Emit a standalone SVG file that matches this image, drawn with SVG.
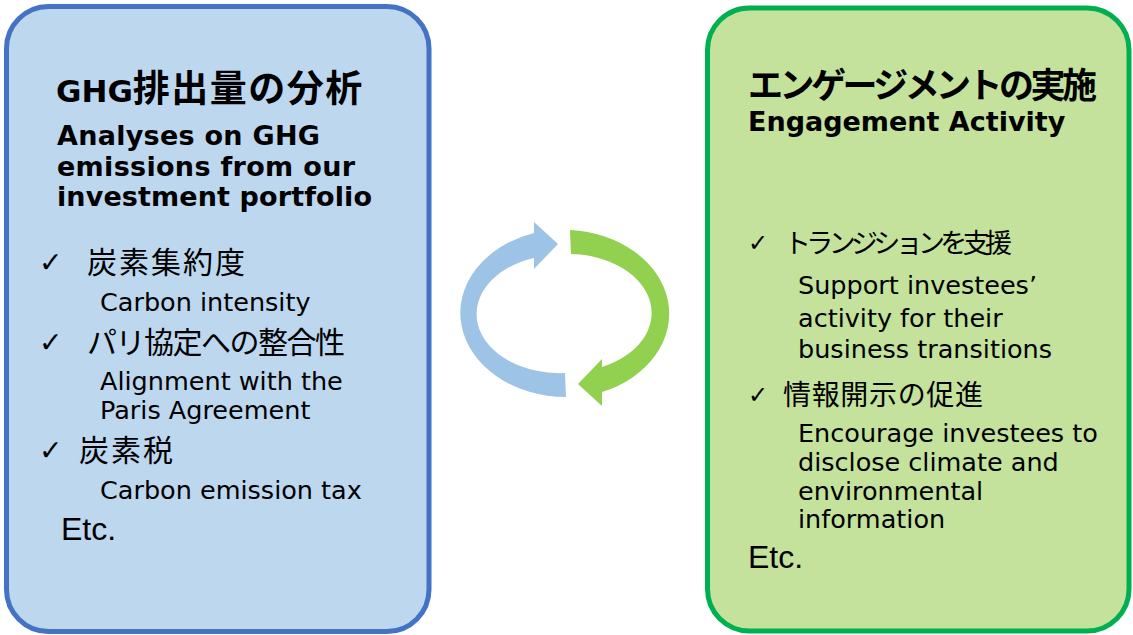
<svg xmlns="http://www.w3.org/2000/svg" width="1133" height="635" viewBox="0 0 1133 635">
<style>
.jp{font-family:"Noto Sans CJK JP","DejaVu Sans",sans-serif;fill:#000}
.jpb{font-family:"Noto Sans CJK JP","DejaVu Sans",sans-serif;font-weight:bold;fill:#000}
.enb{font-family:"DejaVu Sans","Noto Sans CJK JP",sans-serif;font-weight:bold;font-size:27px;fill:#000}
.en{font-family:"DejaVu Sans","Noto Sans CJK JP",sans-serif;font-size:25.5px;fill:#000}
.chk{font-family:"DejaVu Sans",sans-serif;font-weight:bold;fill:#000}
.etc{font-family:"Liberation Sans",Arial,sans-serif;font-size:32px;fill:#000}
</style>
<rect width="1133" height="635" fill="#ffffff"/>
<g id="node-ghg">
<rect x="6.5" y="6.5" width="422.5" height="625" rx="42" ry="42" fill="#BDD7EE" stroke="#4472C4" stroke-width="5"/>
<text x="56" y="102" class="jpb" font-size="37"><tspan style="font-family:'DejaVu Sans',sans-serif;font-size:31px">GHG</tspan><tspan letter-spacing="1.5">排出量の分析</tspan></text>
<text x="57" y="145" class="enb" textLength="263">Analyses on GHG</text>
<text x="57" y="176" class="enb" textLength="298">emissions from our</text>
<text x="57" y="206" class="enb" textLength="315">investment portfolio</text>
<text x="39" y="272" class="chk" font-size="28">✓</text>
<text x="87" y="273" class="jp" font-size="30" textLength="158">炭素集約度</text>
<text x="100" y="311" class="en">Carbon intensity</text>
<text x="39" y="352" class="chk" font-size="28">✓</text>
<text x="87" y="353" class="jp" font-size="30" textLength="258">パリ協定への整合性</text>
<text x="100" y="390" class="en">Alignment with the</text>
<text x="100" y="419" class="en">Paris Agreement</text>
<text x="39" y="460" class="chk" font-size="28">✓</text>
<text x="79" y="461" class="jp" font-size="30" textLength="94">炭素税</text>
<text x="100" y="499" class="en">Carbon emission tax</text>
<text x="61" y="540" class="etc">Etc.</text>
</g>
<g id="node-engagement">
<rect x="707.5" y="8" width="421.5" height="623" rx="42" ry="42" fill="#C4E29C" stroke="#00B050" stroke-width="5"/>
<text x="748" y="98" class="jpb" font-size="35" textLength="349">エンゲージメントの実施</text>
<text x="748" y="131" class="enb">Engagement Activity</text>
<text x="748" y="251" class="chk" font-size="24">✓</text>
<text x="784" y="253" class="jp" font-size="27" textLength="228">トランジションを支援</text>
<text x="798" y="294" class="en">Support investees’</text>
<text x="798" y="327" class="en">activity for their</text>
<text x="798" y="358" class="en">business transitions</text>
<text x="748" y="403" class="chk" font-size="24">✓</text>
<text x="783" y="405" class="jp" font-size="28" textLength="200">情報開示の促進</text>
<text x="798" y="442" class="en">Encourage investees to</text>
<text x="798" y="471" class="en">disclose climate and</text>
<text x="798" y="500" class="en">environmental</text>
<text x="798" y="528" class="en">information</text>
<text x="748" y="568" class="etc">Etc.</text>
</g>
<g id="connectors">
<path id="arrow-blue" d="M566 397 A106 84 0 0 1 534 233 L534 222 L558 244 L534 269 L534 258 A83 59 0 0 0 565 373 Z" fill="#9DC3E6"/>
<path id="arrow-green" d="M570 230 A106 84 0 0 1 602 392 L602 406 L578 384 L602 359 L602 367 A83 59 0 0 0 571 254 Z" fill="#92D050"/>
</g>
</svg>
